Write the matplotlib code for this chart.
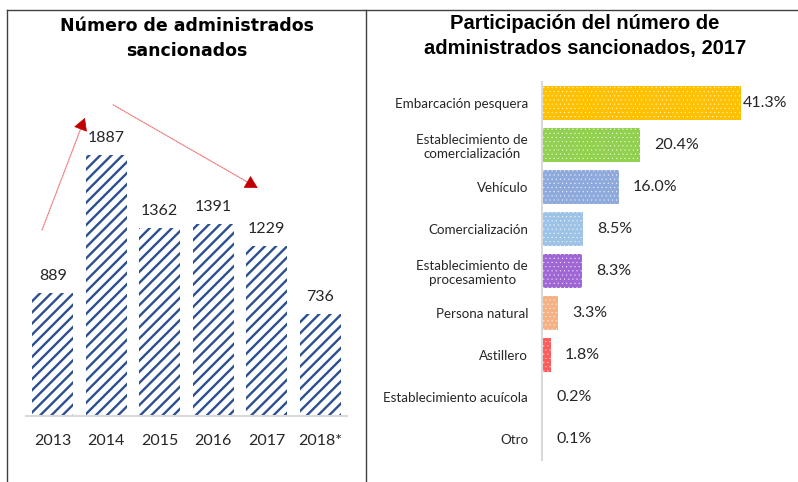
import matplotlib
matplotlib.use("Agg")
import matplotlib.pyplot as plt
from matplotlib.lines import Line2D

# ---------------------------------------------------------------------------
# Data
# ---------------------------------------------------------------------------
years = ["2013", "2014", "2015", "2016", "2017", "2018*"]
sanctioned = [889, 1887, 1362, 1391, 1229, 736]

categories = [
    "Embarcación pesquera",
    "Establecimiento de\ncomercialización",
    "Vehículo",
    "Comercialización",
    "Establecimiento de\nprocesamiento",
    "Persona natural",
    "Astillero",
    "Establecimiento acuícola",
    "Otro",
]
shares = [41.3, 20.4, 16.0, 8.5, 8.3, 3.3, 1.8, 0.2, 0.1]
share_colors = ["#FFC000", "#92D050", "#8EA9DB", "#9DC3E6", "#A066D3",
                "#F4B183", "#FF5B5B", "#FFD966", "#FFD966"]

plt.rcParams["font.family"] = ["Lato", "DejaVu Sans"]

fig = plt.figure(figsize=(7.98, 4.82), dpi=100)
W, H = 798, 482


def px_axes(x0, y0, x1, y1):
    """Axes from pixel box (top-left origin)."""
    return fig.add_axes([x0 / W, 1 - y1 / H, (x1 - x0) / W, (y1 - y0) / H])


# frame lines around the panels
frame_kw = dict(color="#404040", lw=1.0, transform=fig.transFigure)
fig.add_artist(Line2D([7 / W, 1], [1 - 10 / H, 1 - 10 / H], **frame_kw))
fig.add_artist(Line2D([7 / W, 7 / W], [0, 1 - 10 / H], **frame_kw))
fig.add_artist(Line2D([366 / W, 366 / W], [0, 1 - 10 / H], **frame_kw))

# ---------------------------------------------------------------------------
# Left: number of sanctioned per year
# ---------------------------------------------------------------------------
ax1 = px_axes(26, 84, 347, 416)
x = list(range(len(years)))
bars = ax1.bar(x, sanctioned, width=0.765, color="white", edgecolor="#2B4F91",
               hatch="///", linewidth=0)
for b in bars:
    b.set_hatch_linewidth(1.7)
for xi, v in zip(x, sanctioned):
    ax1.annotate(str(v), (xi, v), xytext=(0, 7), textcoords="offset points",
                 ha="center", va="bottom", fontsize=11.5, color="#262626")
ax1.set_xlim(-0.5, 5.5)
ax1.set_ylim(0, 2400)
ax1.set_xticks(x)
ax1.set_xticklabels(years, fontsize=11.5, color="#262626")
ax1.tick_params(axis="x", length=0, pad=13)
ax1.set_yticks([])
for s in ["top", "right", "left"]:
    ax1.spines[s].set_visible(False)
ax1.spines["bottom"].set_color("#D9D9D9")
ax1.spines["bottom"].set_linewidth(1.5)

# trend arrows: light dotted shaft + dark red head
arrows = [((-0.2, 1345), (0.6, 2155)), ((1.13, 2249), (3.83, 1649))]
for (x0, y0), (x1, y1) in arrows:
    ax1.annotate("", xy=(x1, y1), xytext=(x0, y0), annotation_clip=False,
                 arrowprops=dict(arrowstyle="-", color="#EE7B7B", lw=0.9,
                                 linestyle=(0, (1, 1)), shrinkA=0, shrinkB=4))
    xs, ys = x1 - (x1 - x0) * 0.02, y1 - (y1 - y0) * 0.02
    ax1.annotate("", xy=(x1, y1), xytext=(xs, ys), annotation_clip=False,
                 arrowprops=dict(arrowstyle="-|>,head_length=0.8,head_width=0.45",
                                 color="#C00000", lw=0.5, shrinkA=0, shrinkB=0))

fig.text(187 / W, 1 - 38.5 / H, "Número de administrados\nsancionados",
         ha="center", va="center", fontsize=12.5, fontweight="bold",
         family="DejaVu Sans", linespacing=1.55)

# ---------------------------------------------------------------------------
# Right: share by type, 2017
# ---------------------------------------------------------------------------
ax2 = px_axes(542, 82, 759, 460)
y = list(range(len(categories)))
hbars = ax2.barh(y, shares, height=0.81, color=share_colors,
                 edgecolor="#FFFFFFCC", hatch="....", linewidth=0)
for b in hbars:
    b.set_hatch_linewidth(0.3)
for yi, v in zip(y, shares):
    off = 1 if v > 40 else 10
    ax2.annotate(f"{v:.1f}%", (v, yi), xytext=(off, 0),
                 textcoords="offset points", ha="left", va="center",
                 fontsize=11.5, color="#262626")
ax2.set_xlim(0, 45)
ax2.set_ylim(8.5, -0.5)
ax2.set_yticks(y)
ax2.set_yticklabels(categories, fontsize=9.6, color="#262626",
                    multialignment="center")
ax2.tick_params(axis="y", length=0, pad=10)
ax2.set_xticks([])
for s in ["top", "right", "bottom"]:
    ax2.spines[s].set_visible(False)
ax2.spines["left"].set_color("#D9D9D9")
ax2.spines["left"].set_linewidth(1.5)

fig.text(585 / W, 1 - 36 / H,
         "Participación del número de\nadministrados sancionados, 2017",
         ha="center", va="center", fontsize=14.5, fontweight="bold",
         family="Liberation Sans", linespacing=1.35)

fig.savefig("out.png", dpi=100)
